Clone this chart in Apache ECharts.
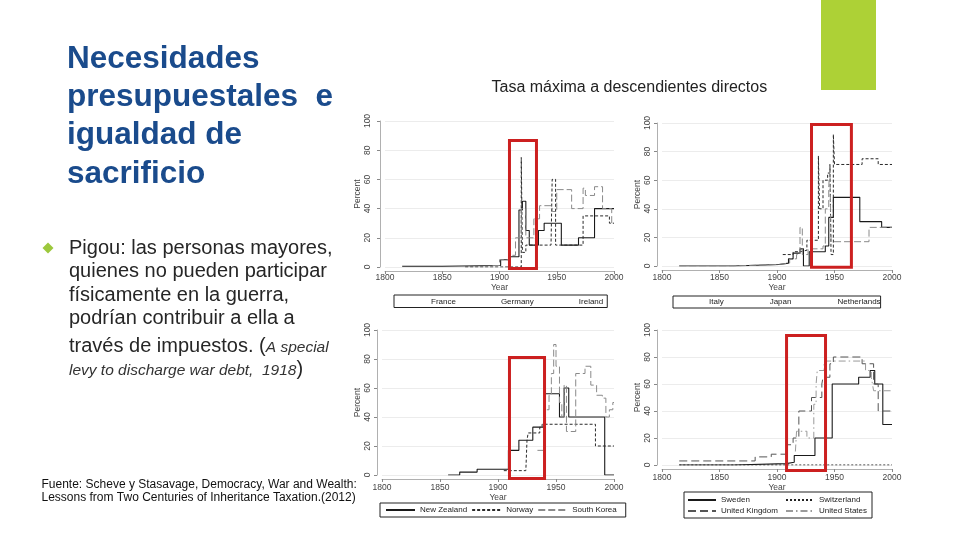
<!DOCTYPE html>
<html><head><meta charset="utf-8">
<script src="https://cdn.jsdelivr.net/npm/echarts/dist/echarts.min.js"></script>
<style>html,body{margin:0;padding:0;background:#fff}#c{width:960px;height:540px}</style>
</head><body><div id="c"></div>
<script>
// ---------- data ----------
const xTickYears = [1800, 1850, 1900, 1950, 2000];
const yTickPercents = [0, 20, 40, 60, 80, 100];

const namesA = ['France', 'Germany', 'Ireland'];
const france  = [[1815,0.5],[1850,1],[1901,5],[1909,7],[1917,39],[1920,45],[1923,25],[1926,15],[1934,25],[1939,30],[1954,15],[1969,20],[1983,40],[2000,40]];
const germany = [[1870,0],[1919,75],[1920,10],[1923,15],[1945,15],[1946,60],[1949,15],[1973,35],[1996,30],[2000,30]];
const ireland = [[1894,1],[1900,5],[1909,8],[1914,20],[1919,40],[1923,20],[1930,33],[1935,42],[1946,38],[1950,53],[1963,40],[1973,54],[1975,49],[1983,55],[1990,40],[1998,30],[2000,30]];

const namesB = ['Italy', 'Japan', 'Netherlands'];
const italy       = [[1815,0],[1862,1],[1902,2],[1910,5],[1914,9],[1920,12],[1923,0],[1928,10],[1942,14],[1945,34],[1949,48],[1972,31],[1991,27],[2000,27]];
const japan       = [[1905,8],[1914,10],[1920,11],[1926,18],[1936,77],[1937,40],[1940,60],[1944,65],[1946,71],[1947,8],[1949,92],[1950,71],[1974,75],[1988,71],[2000,71]];
const netherlands = [[1815,0],[1859,1],[1900,2],[1911,5],[1917,8],[1920,27],[1922,8],[1927,12],[1940,14],[1942,40],[1945,55],[1946,70],[1947,17],[1980,27],[2000,27]];

const namesC = ['New Zealand', 'Norway', 'South Korea'];
const newZealand = [[1857,0],[1867,2],[1882,4],[1909,17],[1918,24],[1930,33],[1940,56],[1953,40],[1957,60],[1961,40],[1992,0],[2000,0]];
const norway     = [[1905,3],[1924,3],[1925,24],[1926,29],[1936,33],[1938,35],[1982,35],[1984,20],[2000,20]];
const southKorea = [[1934,17],[1940,45],[1944,55],[1946,70],[1948,90],[1950,75],[1953,50],[1955,40],[1957,62],[1959,30],[1967,70],[1972,70],[1975,75],[1980,62],[1985,55],[1990,53],[1993,40],[1996,45],[1999,50],[2000,50]];

const namesD = ['Sweden', 'Switzerland', 'United Kingdom', 'United States'];
const sweden        = [[1815,0],[1862,1],[1908,2],[1915,7],[1933,20],[1948,60],[1971,65],[1981,70],[1985,60],[1992,30],[2000,30]];
const switzerland   = [[1815,0],[2000,0]];
const unitedKingdom = [[1815,3],[1881,6],[1895,8],[1909,15],[1914,20],[1919,40],[1930,50],[1939,60],[1940,65],[1946,75],[1949,80],[1974,75],[1984,60],[1988,40],[2000,40]];
const unitedStates  = [[1916,10],[1917,25],[1926,20],[1932,45],[1934,60],[1935,70],[1941,77],[1977,70],[1982,65],[1983,60],[1984,55],[2000,55]];

// highlighted periods (red boxes): [panel, [yearFrom, pctLow], [yearTo, pctHigh]]
const highlightSpans = [
  [0, [1907.4, -2], [1933.6, 87.7]],
  [1, [1928.7, -2], [1966, 100]],
  [2, [1908.6, -3.4], [1941.4, 82]],
  [3, [1907, -5.2], [1943.5, 97]]
];

// ---------- layout ----------
const FONT = '"Liberation Sans", Arial, sans-serif';
const grids = [
  {left:385, top:121, width:229, height:146},
  {left:662, top:123, width:230, height:143},
  {left:382, top:330, width:232, height:145},
  {left:662, top:330, width:230, height:135}
];
const yLabelMargin = [7.5, 4.5, 4.5, 4.5];
const xLabelMargin = [2.5, 3.5, 4.5, 4.5];
const xNameGap = [10.5, 11.5, 13.5, 12.5];

const xAxes = grids.map((g, i) => ({
  type:'value', gridIndex:i, min:xTickYears[0], max:xTickYears[xTickYears.length-1], interval:50,
  offset:4,
  axisLine:{show:true, onZero:false, lineStyle:{color:'#b0b0b0', width:1}},
  axisTick:{show:true, length:3, lineStyle:{color:'#888'}},
  axisLabel:{fontSize:8.5, color:'#444', margin:xLabelMargin[i], fontFamily:FONT, formatter:v => String(v)},
  splitLine:{show:false},
  name:'Year', nameLocation:'middle', nameGap:xNameGap[i],
  nameTextStyle:{fontSize:8.5, color:'#444', fontFamily:FONT}
}));
const yAxes = grids.map((g, i) => ({
  type:'value', gridIndex:i, min:yTickPercents[0], max:yTickPercents[yTickPercents.length-1], interval:20,
  offset:5,
  axisLine:{show:true, onZero:false, lineStyle:{color:'#b0b0b0', width:1}},
  axisTick:{show:true, length:3, lineStyle:{color:'#888'}},
  axisLabel:{fontSize:8.5, color:'#444', margin:yLabelMargin[i], rotate:90, fontFamily:FONT, formatter:v => String(v)},
  splitLine:{show:true, lineStyle:{color:'#ececec', width:1}},
  name:'Percent', nameLocation:'middle', nameGap:14.5, nameRotate:90,
  nameTextStyle:{fontSize:8.5, color:'#444', fontFamily:FONT}
}));

const SOLID = {color:'#1a1a1a', type:'solid', width:1.1};
const DASH = {color:'#2a2a2a', type:[3,2], width:1};
const LONG = {color:'#8a8a8a', type:[7,3], width:1};
function line(name, data, idx, ls) {
  return {type:'line', name, data, xAxisIndex:idx, yAxisIndex:idx, step:'end',
    symbol:'none', showSymbol:false, silent:true, animation:false,
    lineStyle:Object.assign({}, ls), itemStyle:{color:ls.color}};
}
const series = [
  line('France', france, 0, SOLID),
  line('Germany', germany, 0, DASH),
  line('Ireland', ireland, 0, LONG),
  line('Italy', italy, 1, SOLID),
  line('Japan', japan, 1, DASH),
  line('Netherlands', netherlands, 1, LONG),
  line('New Zealand', newZealand, 2, SOLID),
  line('Norway', norway, 2, DASH),
  line('South Korea', southKorea, 2, LONG),
  line('Sweden', sweden, 3, SOLID),
  line('Switzerland', switzerland, 3, {color:'#222', type:[2,2], width:1}),
  line('United Kingdom', unitedKingdom, 3, {color:'#555', type:[8,4], width:1}),
  line('United States', unitedStates, 3, {color:'#9a9a9a', type:[7,3,1.5,3], width:1})
];

const legTxt = {fontSize:8, color:'#222', fontFamily:FONT};
const noSym = {opacity:0, borderWidth:0};
const legends = [
  {data:namesA, left:394, top:295, orient:'horizontal', icon:'none', itemWidth:30, itemHeight:9, itemGap:10,
   padding:[2,4,2,2], borderColor:'#222', borderWidth:1, textStyle:legTxt, selectedMode:false},
  {data:namesB, left:673, top:296, orient:'horizontal', icon:'none', itemWidth:30, itemHeight:8, itemGap:11,
   padding:[2,0,2,1], borderColor:'#222', borderWidth:1, textStyle:legTxt, selectedMode:false},
  {data:namesC, left:380, top:503, orient:'horizontal', icon:'inherit', itemStyle:noSym, itemWidth:29, itemHeight:9, itemGap:4,
   padding:[3,9,3,5], borderColor:'#222', borderWidth:1, textStyle:legTxt, selectedMode:false},
  {data:[namesD[0], namesD[2]], left:687, top:496, orient:'vertical', icon:'inherit', itemStyle:noSym, itemWidth:28, itemHeight:8, itemGap:3,
   padding:0, textStyle:legTxt, selectedMode:false},
  {data:[namesD[1], namesD[3]], left:785, top:496, orient:'vertical', icon:'inherit', itemStyle:noSym, itemWidth:28, itemHeight:8, itemGap:3,
   padding:0, textStyle:legTxt, selectedMode:false}
];

const graphics = [
  {id:'greenbar', type:'rect', shape:{x:821, y:0, width:55, height:90}, style:{fill:'#add136'}},
  {id:'title', type:'text', style:{text:'Necesidades\npresupuestales  e\nigualdad de\nsacrificio',
    x:67, y:40, font:'bold 31.5px ' + FONT, fill:'#1a4b8c', lineHeight:38.3, verticalAlign:'top'}},
  {id:'diamond', type:'polygon', shape:{points:[[48,242.5],[53.5,248],[48,253.5],[42.5,248]]}, style:{fill:'#9cc83c'}},
  {id:'bullet', type:'text', style:{text:'Pigou: las personas mayores,\nquienes no pueden participar\nfísicamente en la guerra,\npodrían contribuir a ella a',
    x:69, y:237, font:'20px ' + FONT, fill:'#262626', lineHeight:23.3, verticalAlign:'top'}},
  {id:'bullet5', type:'text', style:{text:'{n|través de impuestos. (}{i|A special}', x:69, y:346, verticalAlign:'middle',
    rich:{n:{fontSize:20, fontFamily:FONT, fill:'#262626', verticalAlign:'bottom'},
          i:{fontSize:15.5, fontFamily:FONT, fontStyle:'italic', fill:'#333', verticalAlign:'bottom'}}}},
  {id:'bullet6', type:'text', style:{text:'{i|levy to discharge war debt,  1918}{n|)}', x:69, y:369, verticalAlign:'middle',
    rich:{n:{fontSize:20, fontFamily:FONT, fill:'#262626', verticalAlign:'bottom'},
          i:{fontSize:15.5, fontFamily:FONT, fontStyle:'italic', fill:'#333', verticalAlign:'bottom'}}}},
  {id:'source', type:'text', style:{text:'Fuente: Scheve y Stasavage, Democracy, War and Wealth:\nLessons from Two Centuries of Inheritance Taxation.(2012)',
    x:41.5, y:477.5, font:'12px ' + FONT, fill:'#111', lineHeight:13.5, verticalAlign:'top'}},
  {id:'header', type:'text', style:{text:'Tasa máxima a descendientes directos', x:491.5, y:87.7,
    font:'16px ' + FONT, fill:'#222', verticalAlign:'middle'}},
  {id:'leg4box', type:'rect', shape:{x:684, y:492, width:188, height:26}, style:{fill:'none', stroke:'#222', lineWidth:1}}
];

const chart = echarts.init(document.getElementById('c'), null, {renderer:'canvas'});
chart.setOption({
  animation:false,
  backgroundColor:'#ffffff',
  grid: grids.map(g => Object.assign({containLabel:false, outerBoundsMode:'none'}, g)),
  xAxis: xAxes,
  yAxis: yAxes,
  legend: legends,
  series: series,
  graphic: graphics
});

// red highlight boxes positioned through the axes' scales
const boxGraphics = highlightSpans.map(([gi, lo, hi], k) => {
  const p1 = chart.convertToPixel({gridIndex:gi}, lo);
  const p2 = chart.convertToPixel({gridIndex:gi}, hi);
  const x = Math.min(p1[0], p2[0]) + 1.5, y = Math.min(p1[1], p2[1]) + 1.5;
  const w = Math.abs(p2[0] - p1[0]) - 3, h = Math.abs(p2[1] - p1[1]) - 3;
  return {id:'hl' + k, type:'rect', z:100, shape:{x, y, width:w, height:h},
    style:{fill:'none', stroke:'#cc2020', lineWidth:3}};
});
chart.setOption({graphic: boxGraphics});
</script></body></html>
